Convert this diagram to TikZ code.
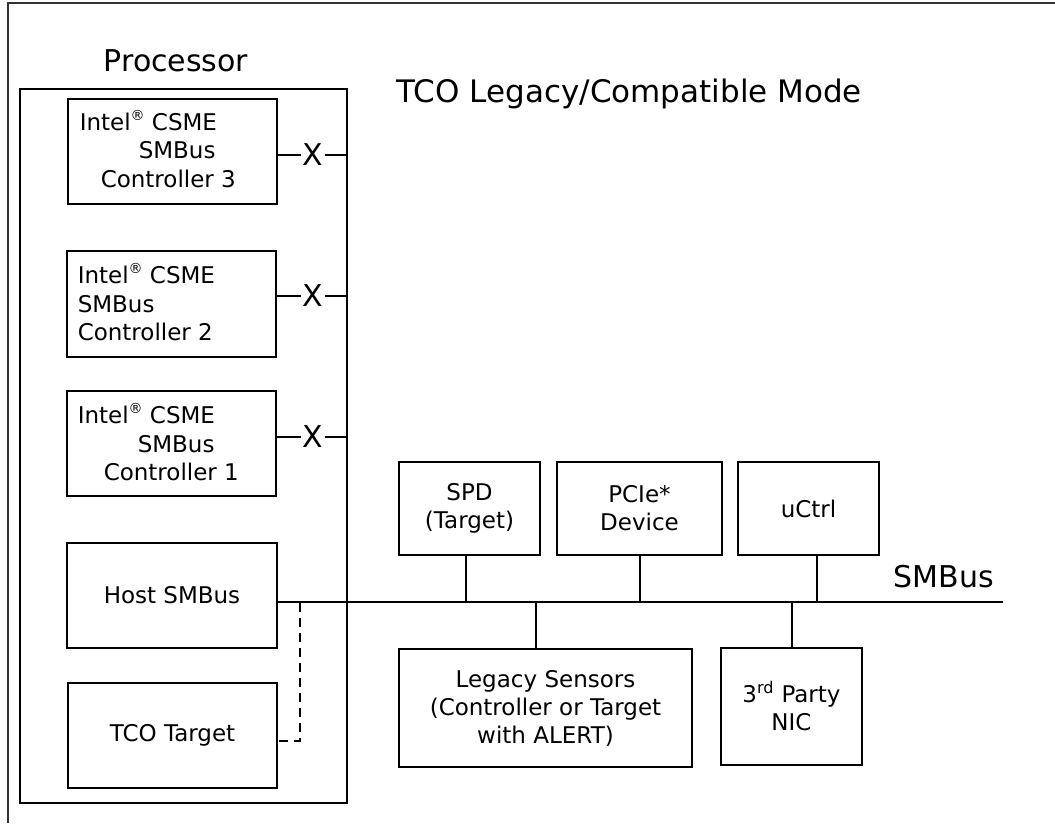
\documentclass[tikz,border=0pt]{standalone}
\usepackage{fontspec}
\setmainfont{DejaVu Sans}
\newcommand{\regmark}{\raisebox{0.75ex}{\fontsize{14}{14}\selectfont ®}}
\begin{document}
\begin{tikzpicture}[x=1pt,y=-1pt,
  every path/.style={line width=1.5pt},
  box/.style={draw, line width=1.5pt, inner sep=0pt, outer sep=0pt},
  btext/.style={font=\fontsize{23}{28}\selectfont, align=center, inner sep=0pt},
  ltext/.style={font=\fontsize{23}{28}\selectfont, anchor=base west, inner sep=0pt},
  bigtext/.style={font=\fontsize{30}{36}\selectfont, anchor=base west, inner sep=0pt},
  xmark/.style={font=\fontsize{30}{36}\selectfont, inner sep=1pt},
  dashline/.style={dashed, dash pattern=on 9pt off 6pt, line width=1.3pt}]
\useasboundingbox (0,0) rectangle (1055,823);
% outer frame
\draw[line width=1.3pt, black!80] (8,823) -- (8,3) -- (1055,3);

% processor
\node[box, minimum width=327pt, minimum height=714pt] (proc) at (183.5,446) {};
\node[bigtext] (proclbl) at (103,71) {Processor};
\node[bigtext, font=\fontsize{31}{36}\selectfont] (title) at (396,102) {TCO Legacy/Compatible Mode};

% controllers
\node[box, minimum width=209pt, minimum height=105pt] (c3) at (172.5,151.5) {};
\node[ltext] (c3a) at (79,130) {Intel\regmark\ CSME};
\node[ltext] (c3b) at (138,158) {SMBus};
\node[ltext] (c3c) at (100,187) {Controller 3};

\node[box, minimum width=209pt, minimum height=106pt] (c2) at (171.5,304) {};
\node[ltext] (c2a) at (77,283) {Intel\regmark\ CSME};
\node[ltext] (c2b) at (77,312) {SMBus};
\node[ltext] (c2c) at (77,340) {Controller 2};

\node[box, minimum width=209pt, minimum height=105pt] (c1) at (171.5,443.5) {};
\node[ltext] (c1a) at (77,423) {Intel\regmark\ CSME};
\node[ltext] (c1b) at (137,452) {SMBus};
\node[ltext] (c1c) at (103,480) {Controller 1};

\node[box, minimum width=210pt, minimum height=105pt] (hs) at (172,595.5) {};
\node[btext] (hst) at (hs) {Host SMBus};
\node[box, minimum width=209pt, minimum height=105pt] (tco) at (172.5,735.5) {};
\node[btext] (tcot) at (tco) {TCO Target};

% X marks
\node[xmark] (x3) at (313,155) {X};
\node[xmark] (x2) at (313,296) {X};
\node[xmark] (x1) at (313,437) {X};
\draw (c3.east |- x3) -- (x3) -- (proc.east |- x3);
\draw (c2.east |- x2) -- (x2) -- (proc.east |- x2);
\draw (c1.east |- x1) -- (x1) -- (proc.east |- x1);

% devices
\node[box, minimum width=141pt, minimum height=93pt, btext] (spd) at (469.5,508.5) {SPD\\(Target)};
\node[box, minimum width=165pt, minimum height=93pt, btext] (pcie) at (639.5,508.5) {PCIe*\\Device};
\node[box, minimum width=141pt, minimum height=93pt, btext] (uctrl) at (808.5,508.5) {uCtrl};
\node[box, minimum width=293pt, minimum height=118pt, btext] (leg) at (545.5,708) {Legacy Sensors\\(Controller or Target\\with ALERT)};
\node[box, minimum width=141pt, minimum height=117pt, btext] (nic) at (791.5,706.5) {3\textsuperscript{rd} Party\\NIC};

% bus
\coordinate (busend) at (1003,602);
\draw (hs.east |- busend) -- (busend);
\node[bigtext] (buslbl) at (893,587) {SMBus};
\coordinate (b1) at (466,602);
\coordinate (b2) at (640,602);
\coordinate (b3) at (817,602);
\coordinate (b4) at (536,602);
\coordinate (b5) at (792,602);
\draw (b1) -- (spd.south -| b1);
\draw (b2) -- (pcie.south -| b2);
\draw (b3) -- (uctrl.south -| b3);
\draw (b4) -- (leg.north -| b4);
\draw (b5) -- (nic.north -| b5);

% dashed TCO link
\coordinate (dj) at (300,603);
\coordinate (dk) at (300,741);
\draw[dashline] (dj) -- (dk) -- (tco.east |- dk);
\end{tikzpicture}
\end{document}
